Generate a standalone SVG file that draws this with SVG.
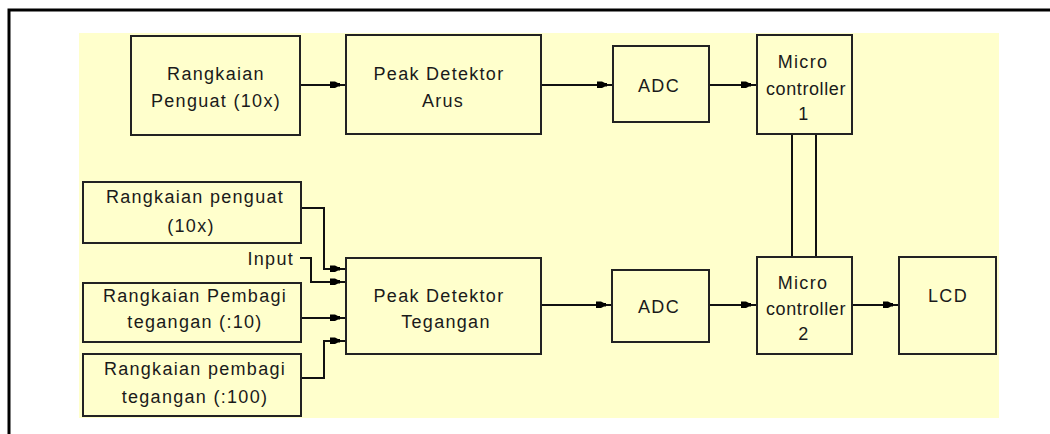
<svg xmlns="http://www.w3.org/2000/svg" width="1050" height="434" viewBox="0 0 1050 434">
<style>
.box{fill:#FFFFCC;stroke:#222;stroke-width:2}
.t{font-family:"Liberation Sans",Arial,sans-serif;font-size:18px;fill:#1a1a1a;text-anchor:middle;letter-spacing:1.3px}
.c{fill:none;stroke:#111;stroke-width:2}
</style>
<defs>
<marker id="port" markerUnits="userSpaceOnUse" viewBox="-20 -5 20 10" markerWidth="20" markerHeight="10" refX="0" refY="0" orient="auto">
<path d="M-16,-3.5 H-11 L-8,-2 H-6 V1.5 H-8 L-11,3 H-16 Z" fill="#000"/>
</marker>
</defs>
<rect x="0" y="0" width="1050" height="434" fill="#fff"/>
<path d="M9,434 V10 H1050" fill="none" stroke="#000" stroke-width="3"/>
<rect x="79" y="33" width="920" height="385" fill="#FFFFCC"/>
<g id="connectors">
<path class="c" d="M300,85 H346" marker-end="url(#port)"/>
<path class="c" d="M541,85 H613" marker-end="url(#port)"/>
<path class="c" d="M709,85 H757" marker-end="url(#port)"/>
<path class="c" d="M792,134 V257"/>
<path class="c" d="M816,134 V257"/>
<path class="c" d="M301,208 H324 V269 H346" marker-end="url(#port)"/>
<path class="c" d="M300,258 H311 V282 H346" marker-end="url(#port)"/>
<path class="c" d="M301,318 H346" marker-end="url(#port)"/>
<path class="c" d="M301,378 H324 V341 H346" marker-end="url(#port)"/>
<path class="c" d="M541,305 H612" marker-end="url(#port)"/>
<path class="c" d="M709,305 H757" marker-end="url(#port)"/>
<path class="c" d="M852,305 H899" marker-end="url(#port)"/>
</g>
<g id="penguat1"><rect class="box" x="131" y="36" width="169" height="99"/>
<text class="t" x="216" y="80">Rangkaian</text><text class="t" x="216" y="107">Penguat (10x)</text></g>
<g id="peakArus"><rect class="box" x="346" y="35" width="195" height="99"/>
<text class="t" x="439" y="80">Peak Detektor</text><text class="t" x="443" y="107">Arus</text></g>
<g id="adc1"><rect class="box" x="613" y="46" width="96" height="76"/>
<text class="t" x="659" y="92">ADC</text></g>
<g id="micro1"><rect class="box" x="757" y="35" width="95" height="99"/>
<text class="t" x="803" y="68">Micro</text><text class="t" x="806" y="95" style="letter-spacing:0.6px">controller</text><text class="t" x="804" y="120">1</text></g>
<g id="penguat2"><rect class="box" x="83" y="182" width="218" height="61"/>
<text class="t" x="195" y="203">Rangkaian penguat</text><text class="t" x="191" y="232">(10x)</text></g>
<g id="input"><text class="t" x="294" y="265" style="text-anchor:end">Input</text></g>
<g id="pembagi10"><rect class="box" x="83" y="283" width="218" height="59"/>
<text class="t" x="195" y="302">Rangkaian Pembagi</text><text class="t" x="195" y="328">tegangan (:10)</text></g>
<g id="pembagi100"><rect class="box" x="83" y="354" width="218" height="62"/>
<text class="t" x="195" y="375">Rangkaian pembagi</text><text class="t" x="195" y="403">tegangan (:100)</text></g>
<g id="peakTegangan"><rect class="box" x="346" y="258" width="195" height="96"/>
<text class="t" x="439" y="302">Peak Detektor</text><text class="t" x="446" y="328">Tegangan</text></g>
<g id="adc2"><rect class="box" x="612" y="270" width="97" height="72"/>
<text class="t" x="659" y="313">ADC</text></g>
<g id="micro2"><rect class="box" x="757" y="257" width="95" height="97"/>
<text class="t" x="803" y="289">Micro</text><text class="t" x="806" y="315" style="letter-spacing:0.6px">controller</text><text class="t" x="804" y="340">2</text></g>
<g id="lcd"><rect class="box" x="899" y="257" width="97" height="97"/>
<text class="t" x="948" y="302">LCD</text></g>
</svg>
